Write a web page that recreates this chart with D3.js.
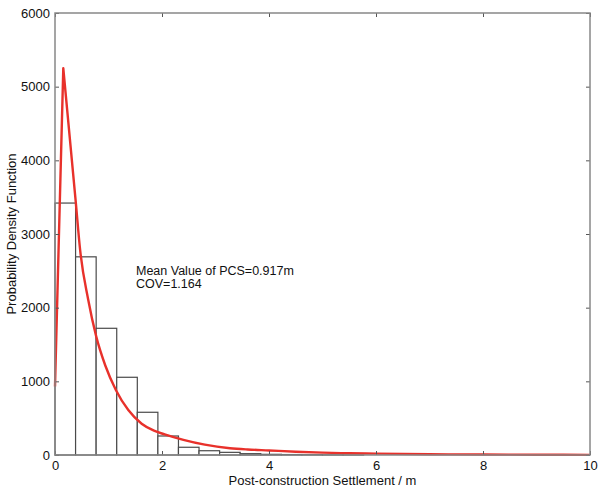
<!DOCTYPE html>
<html>
<head>
<meta charset="utf-8">
<script src="https://cdn.jsdelivr.net/npm/d3@7"></script>
<style>
  body { margin: 0; background: #fff; }
  svg text { font-family: "Liberation Sans", Arial, sans-serif; fill: #111; }
</style>
</head>
<body>
<svg id="chart" width="598" height="489"></svg>
<script>
// histogram: 26 equal bins between 0 and 10 m
const binCount = 26
const binCounts = [3420, 2690, 1720, 1055, 580, 258, 105, 58, 36, 18, 9, 6, 4, 2, 1,
  0, 0, 0, 0, 0, 0, 0, 0, 0, 0, 0]

// fitted curve
const curveX = [0, 0.155, 0.39, 0.47, 0.62, 0.77, 0.94, 1.14, 1.37, 1.62, 1.85, 2.05, 2.4,
  2.8, 3.27, 3.6, 4.0, 4.5, 5.0, 5.5, 6.0, 7.0, 8.0, 9.0, 10.0]
const curveY = [930, 5250, 3420, 2780, 2110, 1610, 1215, 880, 610, 425, 330, 280, 205,
  140, 92, 75, 62, 45, 32, 24, 18, 10, 6, 4, 2]

const xTicks = [0, 2, 4, 6, 8, 10]
const yTicks = [0, 1000, 2000, 3000, 4000, 5000, 6000]

const notes = ['Mean Value of PCS=0.917m', 'COV=1.164']

const width = 598, height = 489
const margin = { top: 13, right: 8, bottom: 34, left: 55 }

const svg = d3.select('#chart')

const x = d3.scaleLinear().domain([0, 10]).range([margin.left, width - margin.right])
const y = d3.scaleLinear().domain([0, 6000]).range([height - margin.bottom, margin.top])

const binW = 10 / binCount

// bars
svg.append('g')
  .selectAll('rect')
  .data(binCounts)
  .enter()
  .append('rect')
  .attr('x', (d, i) => x(i * binW))
  .attr('y', d => y(d))
  .attr('width', x(binW) - x(0))
  .attr('height', d => y(0) - y(d))
  .attr('fill', '#fff')
  .attr('stroke', '#4a4a4a')
  .attr('stroke-width', 1.2)

// fitted pdf: straight rise to the peak, smooth decay after it
const pts = curveX.map((v, i) => [v, curveY[i]])
const rise = pts.slice(0, 2)
const decay = pts.slice(1)

const lineRise = d3.line().x(d => x(d[0])).y(d => y(d[1]))
const lineDecay = d3.line().x(d => x(d[0])).y(d => y(d[1])).curve(d3.curveMonotoneX)

svg.append('path')
  .attr('d', lineRise(rise) + lineDecay(decay).replace(/^M/, 'L'))
  .attr('fill', 'none')
  .attr('stroke', '#e8312b')
  .attr('stroke-width', 2.4)
  .attr('stroke-linejoin', 'round')

// axes (ticks point inward, mirrored on top and right)
const tickStyle = g => {
  g.select('.domain').remove()
  g.selectAll('.tick line').attr('stroke', '#555').attr('stroke-width', 1)
  g.selectAll('.tick text').attr('font-size', 13).attr('fill', '#111')
}

svg.append('g')
  .attr('transform', `translate(0,${y(0)})`)
  .call(d3.axisBottom(x).tickValues(xTicks).tickSizeInner(-4).tickPadding(6).tickFormat(d3.format('d')))
  .call(tickStyle)

svg.append('g')
  .attr('transform', `translate(0,${y(6000)})`)
  .call(d3.axisTop(x).tickValues(xTicks).tickSizeInner(-4).tickFormat(''))
  .call(tickStyle)

svg.append('g')
  .attr('transform', `translate(${x(0)},0)`)
  .call(d3.axisLeft(y).tickValues(yTicks).tickSizeInner(-4).tickPadding(5).tickFormat(d3.format('d')))
  .call(tickStyle)

svg.append('g')
  .attr('transform', `translate(${x(10)},0)`)
  .call(d3.axisRight(y).tickValues(yTicks).tickSizeInner(-4).tickFormat(''))
  .call(tickStyle)

// frame
svg.append('rect')
  .attr('x', x(0))
  .attr('y', y(6000))
  .attr('width', x(10) - x(0))
  .attr('height', y(0) - y(6000))
  .attr('fill', 'none')
  .attr('stroke', '#888')
  .attr('stroke-width', 1.5)

// axis titles
svg.append('text')
  .attr('x', (x(0) + x(10)) / 2)
  .attr('y', 485)
  .attr('text-anchor', 'middle')
  .attr('font-size', 13)
  .text('Post-construction Settlement / m')

svg.append('text')
  .attr('transform', `translate(16,${(y(0) + y(6000)) / 2}) rotate(-90)`)
  .attr('text-anchor', 'middle')
  .attr('font-size', 13)
  .text('Probability Density Function')

// annotation
svg.append('g')
  .selectAll('text')
  .data(notes)
  .enter()
  .append('text')
  .attr('x', 136)
  .attr('y', (d, i) => 275 + i * 12.5)
  .attr('font-size', 12.5)
  .text(d => d)
</script>
</body>
</html>
